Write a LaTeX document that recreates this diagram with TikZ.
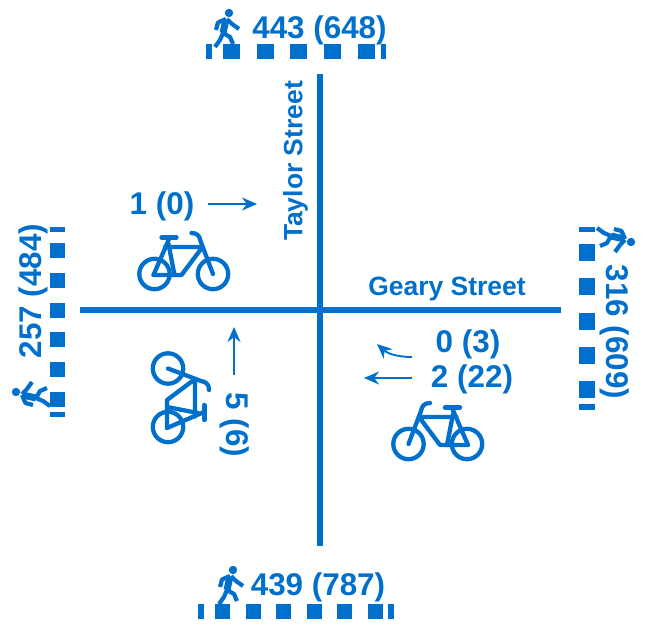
\documentclass[tikz,border=0pt]{standalone}
\usepackage{fontspec}
\setmainfont{Liberation Sans}
\usepackage{tikz}
\usetikzlibrary{arrows.meta}
\definecolor{roadB}{HTML}{0070CC}
\def\px{0.03cm}
\tikzset{
  road/.style={roadB, line width=5.2*\px},
  flow/.style={roadB, line width=1.9*\px, -{Stealth[length=15*\px, width=13*\px]}},
  count/.style={roadB, font=\fontsize{26.8pt}{28pt}\bfseries, inner sep=0pt},
  street/.style={roadB, font=\fontsize{22.6pt}{24pt}\bfseries, inner sep=0pt},
  bikeline/.style={roadB, line width=4.3*\px, line cap=round, line join=round},
  walkline/.style={roadB, line width=4.2*\px, line join=round},
}
% bicycle: origin at rear wheel hub, front wheel to the right
\newcommand{\bikeshape}{%
  \draw[bikeline] (0,0) circle (15.2);
  \draw[bikeline] (58.5,0) circle (15.2);
  \draw[bikeline] (-1,1) -- (27,1) -- (48,-27) -- (10.5,-27);
  \draw[bikeline] (-1,1) -- (15,-36);
  \draw[bikeline] (14,-30) -- (20,1);
  \draw[bikeline] (7,-36.5) -- (22,-36.5);
  \draw[bikeline] (58.5,0) -- (46,-33) .. controls (45,-38) and (43,-41) .. (37,-41);
}
% walker: origin at the head, feet below
\newcommand{\walkshape}{%
  \fill[roadB] (0,0) circle (4.2);
  \draw[roadB, line width=7*\px] (-3,6.5) -- (-6,20);
  \draw[walkline] (-3,6) -- (-11,9.5) -- (-13,17);
  \draw[walkline] (-2,6) -- (3,11) -- (10,16);
  \draw[walkline] (-6,20) -- (-9,27) -- (-14,34);
  \draw[walkline] (-6,20) -- (1,24) -- (4,31);
}
\begin{document}
\begin{tikzpicture}[x=\px, y=-\px]
  \useasboundingbox (0,0) rectangle (647,625);
  % streets
  \draw[road] (80,310) -- (561,310);
  \draw[road] (320,74) -- (320,546);
  \node[street, rotate=90] (taylor) at (295.5,161) {Taylor Street};
  \node[street] (geary) at (447,289) {Geary Street};
  % crossings, top and bottom
  \fill[roadB] (206,44) rectangle (212,59);
  \foreach \x in {223,257,290,324,358}
    \fill[roadB] (\x,44) rectangle (\x+17,59);
  \fill[roadB] (381,44) rectangle (386,59);
  \fill[roadB] (198,604) rectangle (204,619);
  \foreach \x in {215,245.5,276,306.5,337,368}
    \fill[roadB] (\x,604) rectangle (\x+15.4,619);
  \fill[roadB] (388,604) rectangle (394,619);
  % crossings, left and right
  \fill[roadB] (50,227) rectangle (65,232);
  \foreach \y in {243,273,302.5,332,362,392}
    \fill[roadB] (50,\y) rectangle (65,\y+15);
  \fill[roadB] (50,412) rectangle (65,417);
  \fill[roadB] (579,227) rectangle (595,232);
  \foreach \y in {244,278,313,347,381}
    \fill[roadB] (579,\y) rectangle (595,\y+17);
  \fill[roadB] (579,404) rectangle (595,410);
  % walkers
  \begin{scope}[shift={(229,13)}] \walkshape \end{scope}
  \begin{scope}[shift={(233,570)}] \walkshape \end{scope}
  \begin{scope}[shift={(16,392)}, rotate=90] \walkshape \end{scope}
  \begin{scope}[shift={(631,242)}, rotate=-90] \walkshape \end{scope}
  % pedestrian counts
  \node[count] (top) at (319.5,30) {443 (648)};
  \node[count] (bottom) at (318,587) {439 (787)};
  \node[count, rotate=90] (left) at (33,291) {257 (484)};
  \node[count, rotate=-90] (right) at (615,332) {316 (609)};
  % bicycles
  \begin{scope}[shift={(154.5,274)}] \bikeshape \end{scope}
  \begin{scope}[shift={(467,444)}, xscale=-1] \bikeshape \end{scope}
  \begin{scope}[shift={(168,427)}, rotate=-90, xscale=-1] \bikeshape \end{scope}
  % bicycle counts
  \node[count] (west) at (162,206) {1 (0)};
  \node[count] (eastr) at (468,344) {0 (3)};
  \node[count] (east) at (472,379) {2 (22)};
  \node[count, rotate=-90] (south) at (235,425) {5 (6)};
  % flows
  \draw[flow] (208,204) -- (257,204);
  \draw[flow] (234,375) -- (234,327);
  \draw[flow] (412,378) -- (364,378);
  \draw[flow] (412,357) .. controls (396,357) and (387,353) .. (377,344);
\end{tikzpicture}
\end{document}
